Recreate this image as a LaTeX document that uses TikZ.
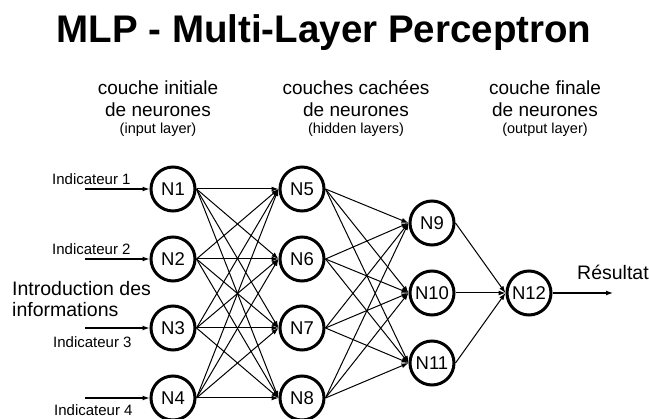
\documentclass[tikz,border=0pt]{standalone}
\usepackage{fontspec}
\setmainfont{Liberation Sans}
\usetikzlibrary{arrows.meta}
\begin{document}
\begin{tikzpicture}[x=1pt,y=-1pt,
  neuron/.style={circle,draw,line width=3pt,minimum size=44pt,inner sep=0pt,
    font=\fontsize{18.5}{20}\selectfont},
  link/.style={line width=1pt,-{Latex[length=7pt,width=5pt]}},
  feed/.style={line width=1.2pt,-{Latex[length=7pt,width=5pt]}},
  titletext/.style={font=\fontsize{38.5}{42}\selectfont\bfseries,anchor=base,inner sep=0pt},
  head/.style={font=\fontsize{19}{21}\selectfont,anchor=base,inner sep=0pt},
  subhead/.style={font=\fontsize{14.5}{16}\selectfont,anchor=base,inner sep=0pt},
  inlabel/.style={font=\fontsize{15}{17}\selectfont,anchor=base west,inner sep=0pt},
  biglabel/.style={font=\fontsize{19.5}{21}\selectfont,anchor=base west,inner sep=0pt}]
\useasboundingbox (0,0) rectangle (649,419);

% title
\node[titletext] (title) at (324,43) {MLP - Multi-Layer Perceptron};

% layer headings
\node[head] (h1a) at (158,95) {couche initiale};
\node[head] (h1b) at (158,117) {de neurones};
\node[subhead] (h1c) at (158,134) {(input layer)};
\node[head] (h2a) at (356,95) {couches cachées};
\node[head] (h2b) at (356,117) {de neurones};
\node[subhead] (h2c) at (356,134) {(hidden layers)};
\node[head] (h3a) at (545,95) {couche finale};
\node[head] (h3b) at (545,117) {de neurones};
\node[subhead] (h3c) at (545,134) {(output layer)};

% neurons
\node[neuron] (N1) at (173,189) {N1};
\node[neuron] (N2) at (173,259) {N2};
\node[neuron] (N3) at (173,328) {N3};
\node[neuron] (N4) at (173,398) {N4};
\node[neuron] (N5) at (302,189) {N5};
\node[neuron] (N6) at (302,259) {N6};
\node[neuron] (N7) at (302,328) {N7};
\node[neuron] (N8) at (302,398) {N8};
\node[neuron] (N9) at (432,223) {N9};
\node[neuron] (N10) at (432,293) {N10};
\node[neuron] (N11) at (432,363) {N11};
\node[neuron] (N12) at (529,293) {N12};

% connections between layers
\foreach \i in {1,...,4}
  \foreach \j in {5,...,8}
    \draw[link] (N\i.east) -- (N\j.west);
\foreach \i in {5,...,8}
  \foreach \j in {9,...,11}
    \draw[link] (N\i.east) -- (N\j.west);
\foreach \i in {9,...,11}
  \draw[link] (N\i.east) -- (N12.west);

% inputs
\coordinate (in1) at (85,189);
\coordinate (in2) at (85,259);
\coordinate (in3) at (85,328);
\coordinate (in4) at (85,398);
\foreach \k in {1,...,4}
  \draw[feed] (in\k) -- (N\k.west);
\node[inlabel] (l1) at (52,185) {Indicateur 1};
\node[inlabel] (l2) at (52,255) {Indicateur 2};
\node[inlabel] (l3) at (53,348) {Indicateur 3};
\node[inlabel] (l4) at (54,416) {Indicateur 4};
\node[biglabel] (intro1) at (12,296) {Introduction des};
\node[biglabel] (intro2) at (12,317) {informations};

% output
\coordinate (out) at (613,293);
\draw[feed] (N12.east) -- (out);
\node[biglabel] (res) at (577,280) {Résultat};
\end{tikzpicture}
\end{document}
